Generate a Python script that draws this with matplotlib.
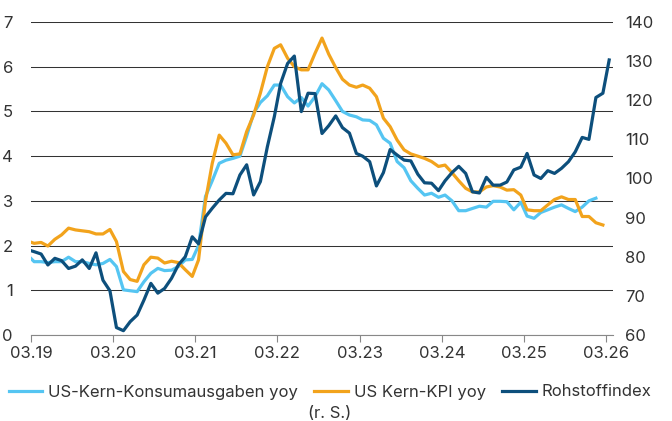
import pandas as pd
import matplotlib
matplotlib.use("Agg")
import matplotlib.pyplot as plt
import matplotlib.dates as mdates

plt.rcParams['font.family'] = ['Inter', 'DejaVu Sans']
plt.rcParams['font.size'] = 12

# monthly values, first point Feb 2019
pce = [1.78,
       1.64, 1.64, 1.62, 1.64, 1.64, 1.74, 1.64, 1.64, 1.60, 1.57,
       1.60, 1.69, 1.53, 1.01, 0.99, 0.97, 1.19, 1.38, 1.49, 1.44, 1.45, 1.53,
       1.68, 1.69, 2.00, 3.10, 3.45, 3.84, 3.91, 3.95, 4.00, 4.45, 4.96, 5.20,
       5.35, 5.59, 5.59, 5.33, 5.19, 5.31, 5.12, 5.33, 5.62, 5.48, 5.24, 5.00,
       4.92, 4.88, 4.81, 4.80, 4.70, 4.40, 4.29, 3.88, 3.74, 3.45, 3.28, 3.13,
       3.17, 3.08, 3.13, 3.00, 2.78, 2.78, 2.83, 2.88, 2.86, 2.99, 2.99, 2.98,
       2.80, 2.97, 2.66, 2.61, 2.74, 2.80, 2.86, 2.91, 2.83, 2.76, 2.86, 3.00,
       3.06]
cpi = [2.10,
       2.05, 2.07, 1.99, 2.14, 2.24, 2.39, 2.35, 2.33, 2.31, 2.26,
       2.26, 2.36, 2.09, 1.42, 1.24, 1.20, 1.57, 1.74, 1.72, 1.61, 1.65, 1.62,
       1.46, 1.31, 1.68, 3.00, 3.84, 4.47, 4.29, 4.03, 4.05, 4.55, 4.92, 5.41,
       6.00, 6.41, 6.49, 6.19, 6.00, 5.93, 5.93, 6.30, 6.64, 6.28, 5.98, 5.72,
       5.59, 5.54, 5.59, 5.52, 5.33, 4.85, 4.66, 4.36, 4.14, 4.05, 4.00, 3.95,
       3.88, 3.77, 3.80, 3.63, 3.45, 3.28, 3.20, 3.20, 3.31, 3.34, 3.31, 3.24,
       3.25, 3.13, 2.80, 2.78, 2.78, 2.91, 3.03, 3.09, 3.03, 3.03, 2.65, 2.65,
       2.51, 2.46]
rohstoff = [81.8,
            81.3, 80.7, 77.9, 79.6, 79.0, 77.0, 77.6, 79.2, 77.0, 81.0,
            74.0, 71.3, 61.9, 61.1, 63.4, 65.1, 68.9, 73.2, 70.7, 71.9, 74.5, 77.9,
            80.0, 85.1, 83.3, 90.2, 92.4, 94.5, 96.2, 96.1, 100.9, 103.5, 95.8, 99.2,
            108.1, 115.8, 124.3, 129.4, 131.3, 117.1, 121.8, 121.7, 111.5, 113.5, 116.0, 113.0,
            111.6, 106.4, 105.7, 104.3, 98.1, 101.5, 107.4, 106.0, 104.7, 104.5, 101.1, 98.9,
            98.8, 96.9, 99.4, 101.5, 103.1, 101.3, 96.6, 96.3, 100.3, 98.3, 98.3, 99.1,
            102.2, 102.9, 106.4, 100.9, 100.0, 102.0, 101.3, 102.6, 104.3, 106.8, 110.5, 110.0,
            120.7, 121.8, 130.3]

labels = ["US-Kern-Konsumausgaben yoy", "US Kern-KPI yoy", "Rohstoffindex"]
tick_labels = ["03.19", "03.20", "03.21", "03.22", "03.23", "03.24", "03.25", "03.26"]


def month_dates(n):
    return pd.date_range("2019-02-01", periods=n, freq="MS") + pd.Timedelta(days=14)


c_light = "#55c5f2"
c_orange = "#f2a31c"
c_dark = "#0d4f7c"
txt = "#333333"

fig = plt.figure(figsize=(6.72, 4.21), dpi=100)
ax = fig.add_axes([31 / 672, 1 - 335 / 421, 582 / 672, 313 / 421])
ax2 = ax.twinx()

l1, = ax.plot(month_dates(len(pce)), pce, color=c_light, lw=2.3, label=labels[0])
l2, = ax.plot(month_dates(len(cpi)), cpi, color=c_orange, lw=2.3, label=labels[1])
l3, = ax2.plot(month_dates(len(rohstoff)), rohstoff, color=c_dark, lw=2.3, label=labels[2])
ax2.set_zorder(ax.get_zorder() + 1)

ax.set_ylim(0, 7)
ax2.set_ylim(60, 140)
ax.set_yticks(range(0, 8))
ax2.set_yticks(range(60, 141, 10))
ax.grid(axis="y", color="#333333", lw=0.75)
ax.set_axisbelow(True)

ticks = [pd.Timestamp(2000 + int(t[3:]), 3, 1) for t in tick_labels]
ax.set_xlim(pd.Timestamp(2019, 3, 1), pd.Timestamp(2026, 4, 1))
ax.set_xticks(ticks)
ax.set_xticklabels(tick_labels)

for a in (ax, ax2):
    for s in a.spines.values():
        s.set_visible(False)
ax.spines["bottom"].set_visible(True)
ax.spines["bottom"].set_color("#888888")
ax.spines["bottom"].set_linewidth(0.8)

ax.tick_params(axis="x", length=5, width=0.8, color="#888888", colors=txt, pad=3, labelsize=12)
ax.tick_params(axis="y", length=0, pad=13, colors=txt, labelsize=12)
ax2.tick_params(axis="y", length=0, pad=9, colors=txt, labelsize=12)

fig.legend(handles=[l1, l2, l3], loc="center", bbox_to_anchor=(330 / 672, 1 - 392 / 421),
           ncol=3, frameon=False, handlelength=2.0, handletextpad=0.35,
           columnspacing=1.0, fontsize=12, labelcolor=txt, borderaxespad=0, borderpad=0)
fig.text(330 / 672, 1 - 413 / 421, "(r. S.)", ha="center", va="center", color=txt, fontsize=12)

fig.savefig("out.png", dpi=100)
